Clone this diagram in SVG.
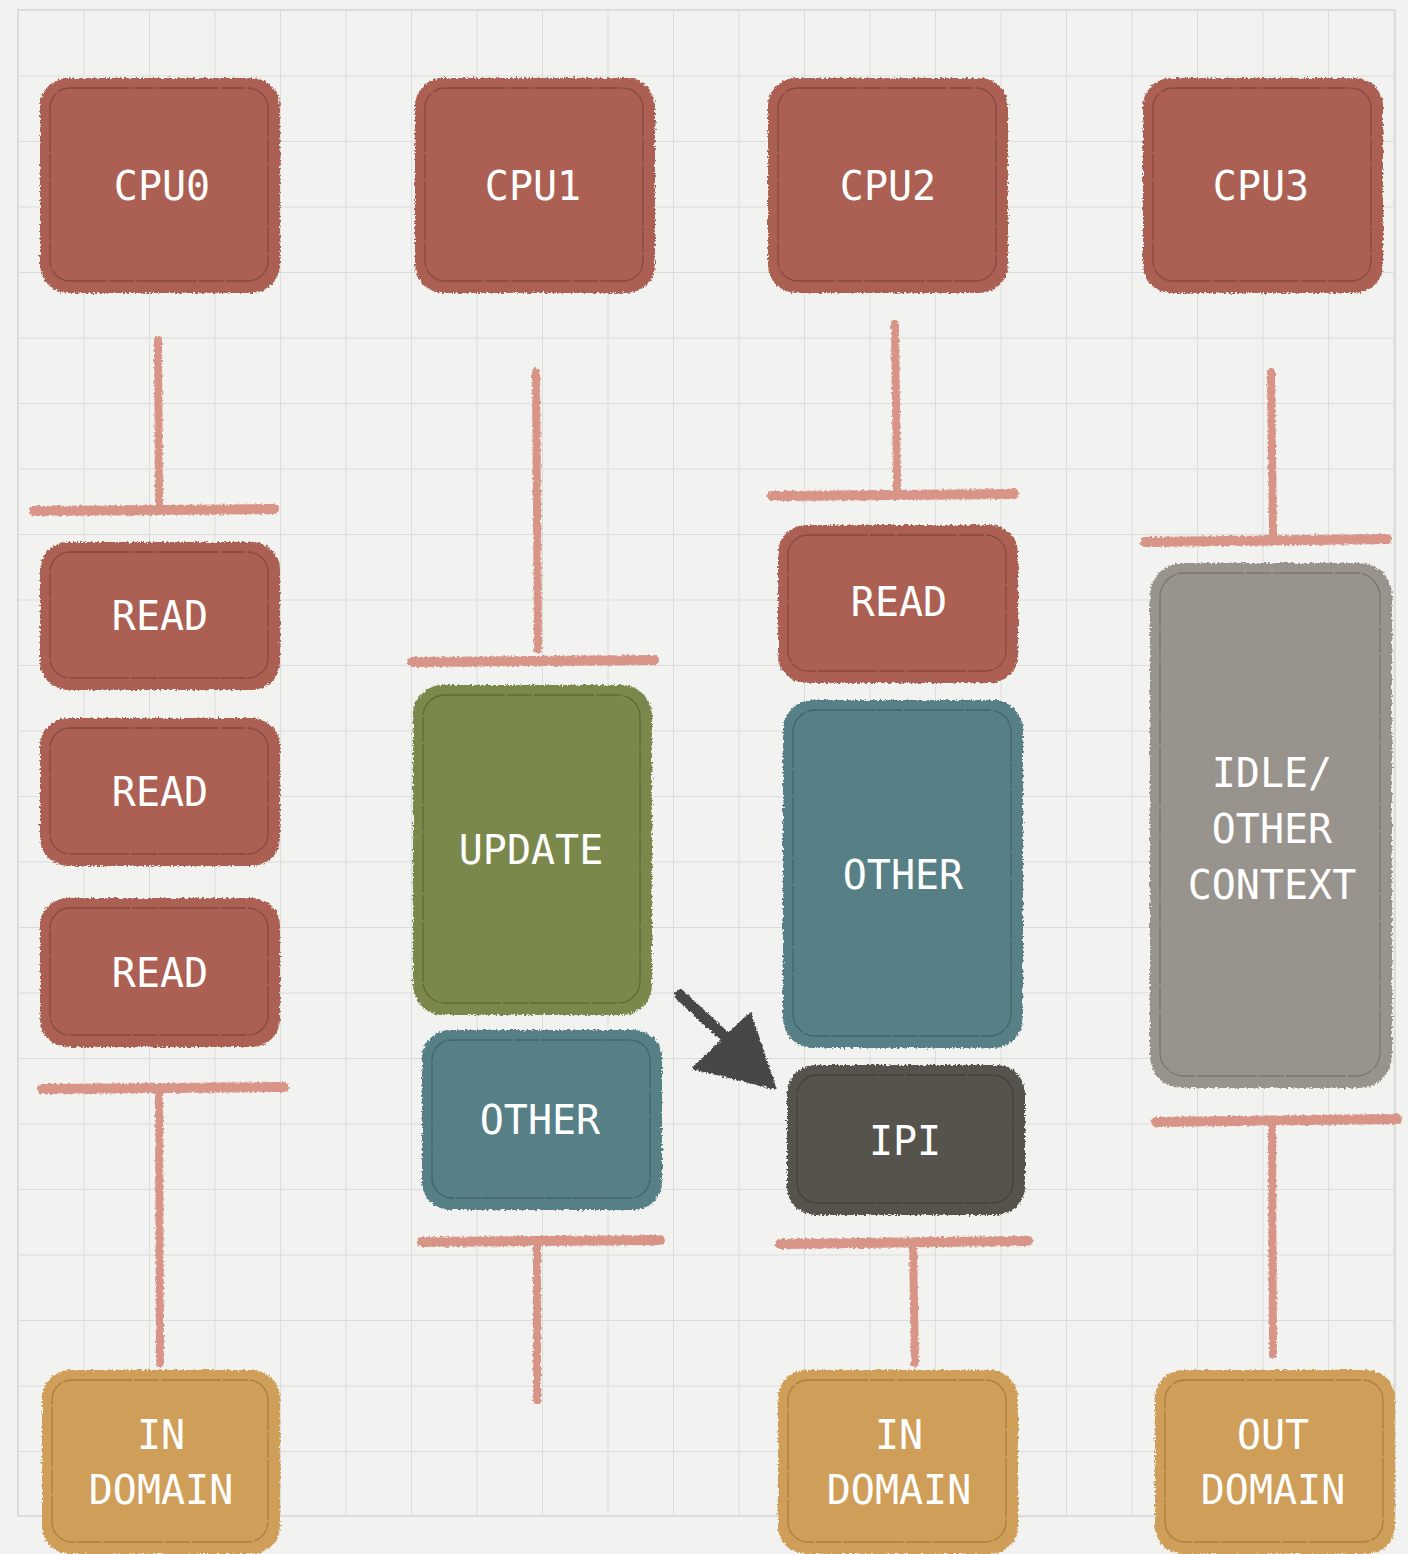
<svg xmlns="http://www.w3.org/2000/svg" width="1408" height="1554" viewBox="0 0 1408 1554">
  <defs>
    <pattern id="grid" x="18" y="10" width="65.5" height="65.5" patternUnits="userSpaceOnUse">
      <path d="M0 0H65.5M0 0V65.5" fill="none" stroke="#dcdcda" stroke-width="2"/>
    </pattern>
    <!-- brushy edge for the boxes -->
    <filter id="rough" filterUnits="userSpaceOnUse" x="0" y="0" width="1408" height="1554">
      <feTurbulence type="fractalNoise" baseFrequency="0.45" numOctaves="2" seed="4" result="n"/>
      <feDisplacementMap in="SourceGraphic" in2="n" scale="5" xChannelSelector="R" yChannelSelector="G"/>
    </filter>
    <!-- chalky strokes for the timeline ticks and the arrow -->
    <filter id="chalk" filterUnits="userSpaceOnUse" x="0" y="0" width="1408" height="1554">
      <feTurbulence type="fractalNoise" baseFrequency="0.4" numOctaves="2" seed="7" result="n"/>
      <feDisplacementMap in="SourceGraphic" in2="n" scale="4" xChannelSelector="R" yChannelSelector="G"/>
    </filter>
    <style>
      .box { filter: url(#rough); }
      .inner { fill: none; stroke-opacity: 0.45; stroke-width: 1.3; stroke-dasharray: 60 2 25 2; }
      .red .fill { fill: #ab6152; } .red .inner { stroke: #5e2e26; }
      .green .fill { fill: #7a884b; } .green .inner { stroke: #3f4824; }
      .teal .fill { fill: #567f86; } .teal .inner { stroke: #2a4448; }
      .dark .fill { fill: #57534e; } .dark .inner { stroke: #2c2a27; }
      .grey .fill { fill: #98938d; } .grey .inner { stroke: #55514c; }
      .gold .fill { fill: #cf9e58; } .gold .inner { stroke: #7a5a26; }
      text { font-family: "DejaVu Sans Mono", "Liberation Mono", monospace; font-size: 40px; fill: #ffffff; text-anchor: middle; }
      .tick { stroke: #d99488; stroke-linecap: round; fill: none; filter: url(#chalk); }
      .stem { stroke-width: 8; }
      .bar { stroke-width: 10; }
    </style>
  </defs>

  <!-- paper with square grid -->
  <rect width="1408" height="1554" fill="#f2f2f0"/>
  <rect x="18" y="10" width="1377" height="1506" fill="url(#grid)"/>
  <rect x="18" y="10" width="1377" height="1506" fill="none" stroke="#dcdcda" stroke-width="2"/>

  <!-- connectors: timeline stems and ticks, and the IPI arrow -->
  <g id="connectors">
    <line class="tick stem" x1="158" y1="340" x2="159" y2="505"/>
    <line class="tick bar" x1="34" y1="511" x2="274" y2="509"/>
    <line class="tick bar" x1="42" y1="1089" x2="284" y2="1087"/>
    <line class="tick stem" x1="159" y1="1092" x2="160" y2="1363"/>

    <line class="tick stem" x1="536" y1="372" x2="538" y2="650"/>
    <line class="tick bar" x1="412" y1="662" x2="654" y2="660"/>
    <line class="tick bar" x1="422" y1="1242" x2="660" y2="1240"/>
    <line class="tick stem" x1="537" y1="1243" x2="537" y2="1400"/>

    <line class="tick stem" x1="895" y1="324" x2="897" y2="490"/>
    <line class="tick bar" x1="772" y1="496" x2="1014" y2="494"/>
    <line class="tick bar" x1="780" y1="1244" x2="1028" y2="1241"/>
    <line class="tick stem" x1="913" y1="1246" x2="915" y2="1363"/>

    <line class="tick stem" x1="1271" y1="372" x2="1273" y2="535"/>
    <line class="tick bar" x1="1145" y1="542" x2="1387" y2="539"/>
    <line class="tick bar" x1="1156" y1="1122" x2="1397" y2="1119"/>
    <line class="tick stem" x1="1272" y1="1124" x2="1273" y2="1355"/>

    <g id="ipi-arrow" filter="url(#chalk)" fill="#4a4744" stroke="#4a4744">
      <line x1="680" y1="995" x2="735" y2="1046" stroke-width="11" stroke-linecap="round"/>
      <polygon points="694,1068 750,1014 775,1088" stroke-width="3" stroke-linejoin="round"/>
    </g>
  </g>

  <!-- CPU headers -->
  <g id="cpu0" class="red">
    <rect class="box fill" x="40" y="78" width="240" height="215" rx="28"/>
    <rect class="inner" x="50" y="88" width="218" height="193" rx="20"/>
    <text x="162" y="200">CPU0</text>
  </g>
  <g id="cpu1" class="red">
    <rect class="box fill" x="415" y="78" width="240" height="215" rx="28"/>
    <rect class="inner" x="425" y="88" width="218" height="193" rx="20"/>
    <text x="533" y="200">CPU1</text>
  </g>
  <g id="cpu2" class="red">
    <rect class="box fill" x="768" y="78" width="240" height="215" rx="28"/>
    <rect class="inner" x="778" y="88" width="218" height="193" rx="20"/>
    <text x="888" y="200">CPU2</text>
  </g>
  <g id="cpu3" class="red">
    <rect class="box fill" x="1143" y="78" width="240" height="215" rx="28"/>
    <rect class="inner" x="1153" y="88" width="218" height="193" rx="20"/>
    <text x="1261" y="200">CPU3</text>
  </g>

  <!-- CPU0 column -->
  <g id="cpu0-read1" class="red">
    <rect class="box fill" x="40" y="542" width="240" height="148" rx="28"/>
    <rect class="inner" x="50" y="552" width="218" height="126" rx="20"/>
    <text x="160" y="630">READ</text>
  </g>
  <g id="cpu0-read2" class="red">
    <rect class="box fill" x="40" y="718" width="240" height="148" rx="28"/>
    <rect class="inner" x="50" y="728" width="218" height="126" rx="20"/>
    <text x="160" y="806">READ</text>
  </g>
  <g id="cpu0-read3" class="red">
    <rect class="box fill" x="40" y="898" width="240" height="149" rx="28"/>
    <rect class="inner" x="50" y="908" width="218" height="127" rx="20"/>
    <text x="160" y="987">READ</text>
  </g>
  <g id="cpu0-domain" class="gold">
    <rect class="box fill" x="42" y="1370" width="238" height="184" rx="28"/>
    <rect class="inner" x="52" y="1380" width="216" height="162" rx="20"/>
    <text x="161" y="1449">IN</text>
    <text x="161" y="1504">DOMAIN</text>
  </g>

  <!-- CPU1 column -->
  <g id="cpu1-update" class="green">
    <rect class="box fill" x="413" y="685" width="239" height="330" rx="30"/>
    <rect class="inner" x="423" y="695" width="217" height="308" rx="22"/>
    <text x="531" y="864">UPDATE</text>
  </g>
  <g id="cpu1-other" class="teal">
    <rect class="box fill" x="422" y="1030" width="240" height="180" rx="28"/>
    <rect class="inner" x="432" y="1040" width="218" height="158" rx="20"/>
    <text x="540" y="1134">OTHER</text>
  </g>

  <!-- CPU2 column -->
  <g id="cpu2-read" class="red">
    <rect class="box fill" x="778" y="525" width="240" height="158" rx="28"/>
    <rect class="inner" x="788" y="535" width="218" height="136" rx="20"/>
    <text x="899" y="616">READ</text>
  </g>
  <g id="cpu2-other" class="teal">
    <rect class="box fill" x="783" y="700" width="240" height="348" rx="30"/>
    <rect class="inner" x="793" y="710" width="218" height="326" rx="22"/>
    <text x="903" y="889">OTHER</text>
  </g>
  <g id="cpu2-ipi" class="dark">
    <rect class="box fill" x="787" y="1065" width="238" height="150" rx="28"/>
    <rect class="inner" x="797" y="1075" width="216" height="128" rx="20"/>
    <text x="905" y="1155">IPI</text>
  </g>
  <g id="cpu2-domain" class="gold">
    <rect class="box fill" x="778" y="1370" width="240" height="184" rx="28"/>
    <rect class="inner" x="788" y="1380" width="218" height="162" rx="20"/>
    <text x="899" y="1449">IN</text>
    <text x="899" y="1504">DOMAIN</text>
  </g>

  <!-- CPU3 column -->
  <g id="cpu3-idle" class="grey">
    <rect class="box fill" x="1150" y="563" width="242" height="525" rx="32"/>
    <rect class="inner" x="1160" y="573" width="220" height="503" rx="24"/>
    <text x="1272" y="787">IDLE/</text>
    <text x="1272" y="843">OTHER</text>
    <text x="1272" y="899">CONTEXT</text>
  </g>
  <g id="cpu3-domain" class="gold">
    <rect class="box fill" x="1155" y="1370" width="240" height="184" rx="28"/>
    <rect class="inner" x="1165" y="1380" width="218" height="162" rx="20"/>
    <text x="1273" y="1449">OUT</text>
    <text x="1273" y="1504">DOMAIN</text>
  </g>
</svg>
